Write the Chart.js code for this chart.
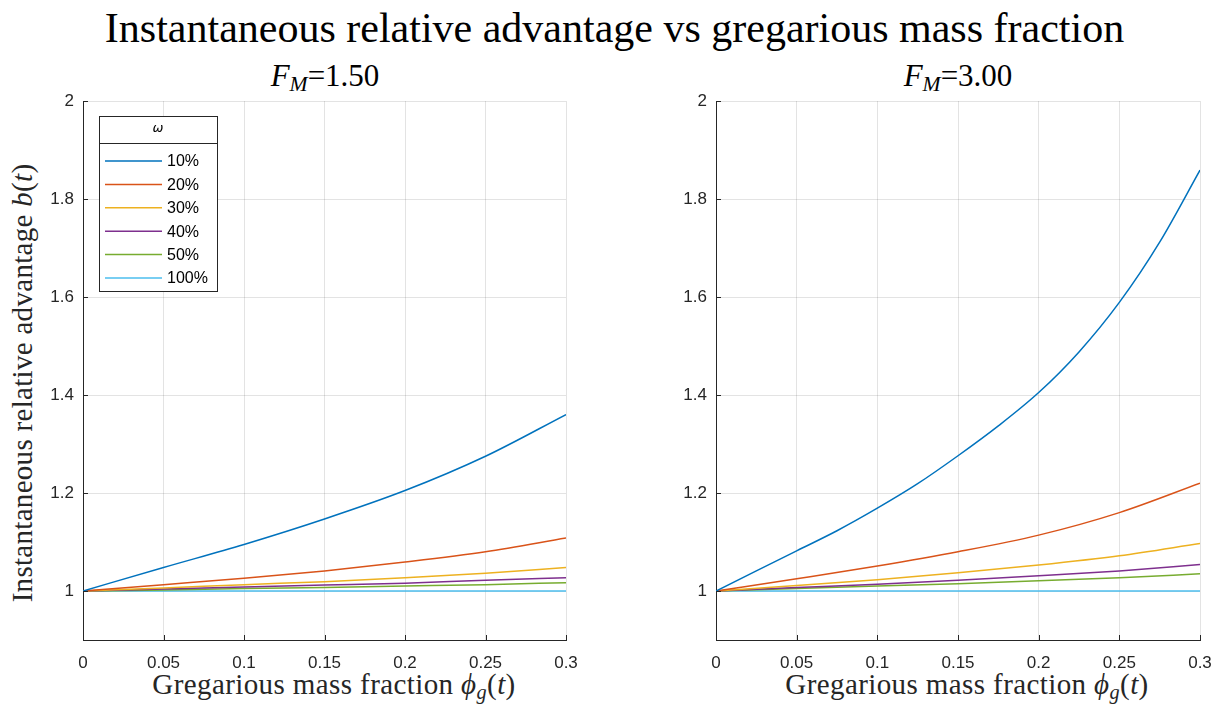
<!DOCTYPE html>
<html>
<head>
<meta charset="utf-8">
<script src="https://cdn.jsdelivr.net/npm/chart.js@4.4.0/dist/chart.umd.min.js"></script>
<style>
  body { margin: 0; background: #fff; width: 1229px; height: 705px; position: relative; overflow: hidden; font-family: "Liberation Serif", serif; }
  .pane { position: absolute; top: 0; height: 705px; }
  .txt { position: absolute; white-space: nowrap; text-align: center; color: #000; line-height: 1; }
  .txt sub { font-size: 0.7em; vertical-align: -0.25em; }
  #mainTitle { left: 0; width: 1229px; top: 7px; font-size: 42px; }
  .subTitle { top: 60px; width: 300px; font-size: 31px; }
  .xLabel { top: 670px; width: 500px; font-size: 29px; letter-spacing: 0.4px; color: #262626; }
  #yLabel { left: 22px; top: 383px; font-size: 29px; letter-spacing: 0.3px; color: #262626; transform: translate(-50%, -50%) rotate(-90deg); }
</style>
</head>
<body>
<div id="mainTitle" class="txt">Instantaneous relative advantage vs gregarious mass fraction</div>
<div class="txt subTitle" style="left:175px"><i>F</i><sub><i>M</i></sub>=1.50</div>
<div class="txt subTitle" style="left:808px"><i>F</i><sub><i>M</i></sub>=3.00</div>
<div class="txt xLabel" style="left:84px">Gregarious mass fraction <i>ϕ</i><sub><i>g</i></sub>(<i>t</i>)</div>
<div class="txt xLabel" style="left:717px">Gregarious mass fraction <i>ϕ</i><sub><i>g</i></sub>(<i>t</i>)</div>
<div id="yLabel" class="txt">Instantaneous relative advantage <i>b</i>(<i>t</i>)</div>

<div class="pane" style="left:0; width:614px"><canvas id="leftChart"></canvas></div>
<div class="pane" style="left:614px; width:615px"><canvas id="rightChart"></canvas></div>

<script>
// gregarious mass fraction (x) and tick labels
var phiValues = [0, 0.05, 0.1, 0.15, 0.2, 0.25, 0.3];
var phiFine = [0, 0.025, 0.05, 0.075, 0.1, 0.125, 0.15, 0.175, 0.2, 0.225, 0.25, 0.275, 0.3];
var xTicks = [0, 0.05, 0.1, 0.15, 0.2, 0.25, 0.3];
var xTickLabels = ['0', '0.05', '0.1', '0.15', '0.2', '0.25', '0.3'];
var yTicks = [1, 1.2, 1.4, 1.6, 1.8, 2];
var yTickLabels = ['1', '1.2', '1.4', '1.6', '1.8', '2'];
var omegaLabels = ['10%', '20%', '30%', '40%', '50%', '100%'];

// F_M = 1.50
var fm150_w10  = [1.000, 1.048, 1.095, 1.147, 1.205, 1.275, 1.360];
var fm150_w20  = [1.000, 1.013, 1.026, 1.041, 1.059, 1.080, 1.108];
var fm150_w30  = [1.000, 1.006, 1.013, 1.019, 1.027, 1.036, 1.048];
var fm150_w40  = [1.000, 1.004, 1.008, 1.012, 1.016, 1.022, 1.027];
var fm150_w50  = [1.000, 1.002, 1.005, 1.007, 1.010, 1.013, 1.017];
var fm150_w100 = [1.000, 1.000, 1.000, 1.000, 1.000, 1.000, 1.000];

// F_M = 3.00 (10% read on the finer grid, it bends the most)
var fm300_w10  = [1.000, 1.041, 1.082, 1.123, 1.169, 1.219, 1.276, 1.337, 1.405, 1.488, 1.589, 1.712, 1.859];
var fm300_w20  = [1.000, 1.025, 1.051, 1.080, 1.114, 1.160, 1.220];
var fm300_w30  = [1.000, 1.011, 1.023, 1.037, 1.053, 1.072, 1.097];
var fm300_w40  = [1.000, 1.007, 1.014, 1.022, 1.031, 1.041, 1.054];
var fm300_w50  = [1.000, 1.005, 1.010, 1.015, 1.021, 1.027, 1.035];
var fm300_w100 = [1.000, 1.000, 1.000, 1.000, 1.000, 1.000, 1.000];

var lineColors = ['#0072BD', '#D95319', '#EDB120', '#7E2F8E', '#77AC30', '#4DBEEE'];
var axisColor = '#262626';

// MATLAB style ticks pointing into the axes
var inwardTicks = {
  id: 'inwardTicks',
  afterDraw: function (chart) {
    var ctx = chart.ctx, area = chart.chartArea, sx = chart.scales.x, sy = chart.scales.y;
    ctx.save();
    ctx.strokeStyle = axisColor;
    ctx.lineWidth = 1;
    ctx.beginPath();
    sy.ticks.forEach(function (t) {
      var y = Math.round(sy.getPixelForValue(t.value)) + 0.5;
      ctx.moveTo(area.left, y);
      ctx.lineTo(area.left + 5, y);
    });
    sx.ticks.forEach(function (t) {
      var x = Math.round(sx.getPixelForValue(t.value)) + 0.5;
      ctx.moveTo(x, area.bottom);
      ctx.lineTo(x, area.bottom - 5);
    });
    ctx.stroke();
    ctx.restore();
  }
};

// boxed legend with a title, drawn inside the plot area
var omegaLegend = {
  id: 'omegaLegend',
  afterDraw: function (chart, args, opts) {
    if (!opts.show) return;
    var ctx = chart.ctx, area = chart.chartArea;
    var x0 = area.left + 16, y0 = area.top + 15, w = 118, h = 175;
    ctx.save();
    ctx.fillStyle = '#fff';
    ctx.fillRect(x0, y0, w, h);
    ctx.strokeStyle = axisColor;
    ctx.lineWidth = 1;
    ctx.strokeRect(x0 + 0.5, y0 + 0.5, w, h);
    ctx.beginPath();
    ctx.moveTo(x0, y0 + 27.5);
    ctx.lineTo(x0 + w, y0 + 27.5);
    ctx.stroke();
    ctx.fillStyle = '#000';
    ctx.textBaseline = 'middle';
    ctx.textAlign = 'center';
    ctx.font = 'italic 13px "DejaVu Sans"';
    ctx.fillText(opts.title, x0 + w / 2, y0 + 13);
    ctx.textAlign = 'left';
    ctx.font = '16px "Liberation Sans"';
    chart.data.datasets.forEach(function (ds, i) {
      var y = y0 + 45 + i * 23.4;
      ctx.strokeStyle = ds.borderColor;
      ctx.lineWidth = 1.5;
      ctx.beginPath();
      ctx.moveTo(x0 + 6, y);
      ctx.lineTo(x0 + 63, y);
      ctx.stroke();
      ctx.fillText(ds.label, x0 + 68, y + 1);
    });
    ctx.restore();
  }
};

function makeChart(id, series, axisWidth, padRight, showLegend) {
  var ctx = document.getElementById(id).getContext('2d');
  var datasets = series.map(function (values, i) {
    var xs = values.length === phiFine.length ? phiFine : phiValues;
    return {
      label: omegaLabels[i],
      data: values.map(function (v, j) { return { x: xs[j], y: v }; }),
      borderColor: lineColors[i],
      backgroundColor: lineColors[i],
      borderWidth: 1.5,
      pointRadius: 0,
      cubicInterpolationMode: 'monotone',
      fill: false
    };
  });
  return new Chart(ctx, {
    type: 'line',
    data: { datasets: datasets },
    options: {
      responsive: true,
      maintainAspectRatio: false,
      animation: false,
      layout: { padding: { top: 101, right: padRight, left: 0, bottom: 0 } },
      plugins: {
        legend: { display: false },
        title: { display: false },
        tooltip: { enabled: false },
        omegaLegend: { show: showLegend, title: 'ω' }
      },
      scales: {
        x: {
          type: 'linear',
          min: 0,
          max: 0.3,
          afterBuildTicks: function (scale) {
            scale.ticks = xTicks.map(function (v) { return { value: v }; });
          },
          afterFit: function (scale) { scale.height = 65; },
          ticks: {
            color: axisColor,
            font: { family: 'Liberation Sans', size: 17 },
            padding: 13,
            maxRotation: 0,
            callback: function (v) { return xTickLabels[xTicks.indexOf(v)]; }
          },
          grid: { color: 'rgba(38,38,38,0.13)', drawTicks: false, lineWidth: 1 },
          border: { display: true, color: axisColor, width: 1 }
        },
        y: {
          type: 'linear',
          min: 0.9,
          max: 2,
          afterBuildTicks: function (scale) {
            scale.ticks = yTicks.map(function (v) { return { value: v }; });
          },
          afterFit: function (scale) { scale.width = axisWidth; },
          ticks: {
            color: axisColor,
            font: { family: 'Liberation Sans', size: 17 },
            padding: 9,
            callback: function (v) { return yTickLabels[yTicks.indexOf(v)]; }
          },
          grid: { color: 'rgba(38,38,38,0.13)', drawTicks: false, lineWidth: 1 },
          border: { display: true, color: axisColor, width: 1 }
        }
      }
    },
    plugins: [inwardTicks, omegaLegend]
  });
}

makeChart('leftChart', [fm150_w10, fm150_w20, fm150_w30, fm150_w40, fm150_w50, fm150_w100], 83, 48, true);
makeChart('rightChart', [fm300_w10, fm300_w20, fm300_w30, fm300_w40, fm300_w50, fm300_w100], 102, 29, false);
</script>
</body>
</html>
